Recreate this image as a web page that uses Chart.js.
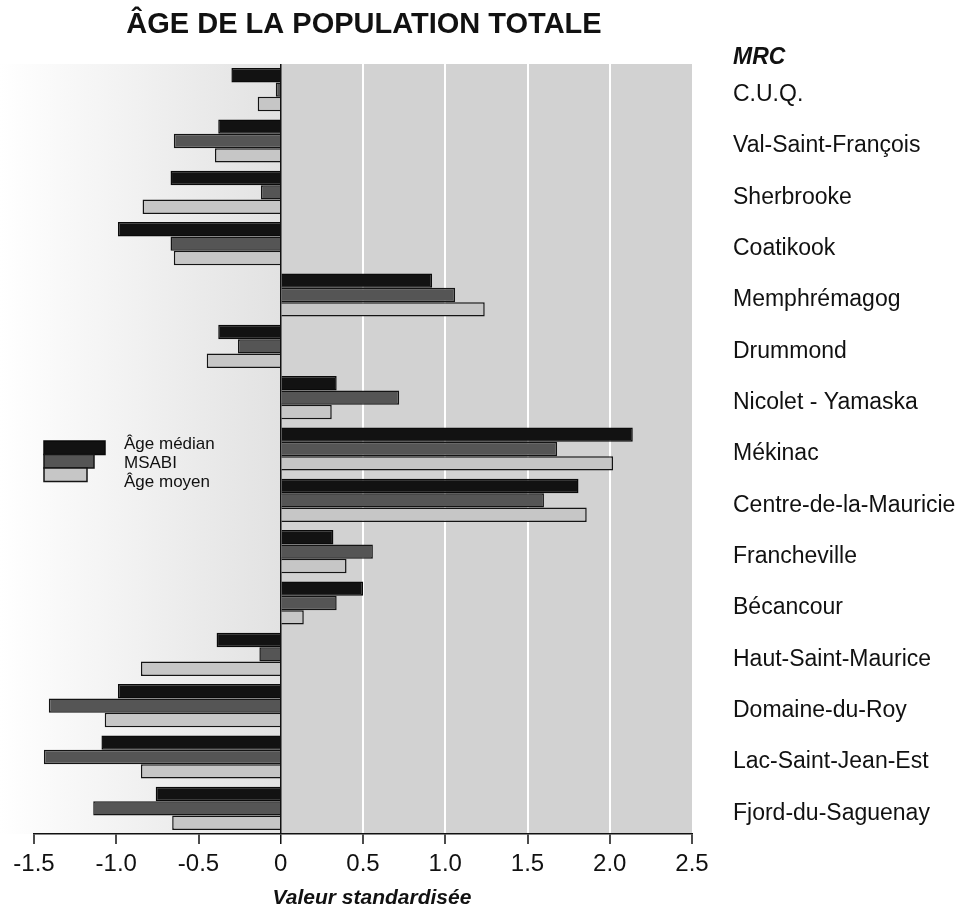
<!DOCTYPE html>
<html lang="fr">
<head>
<meta charset="utf-8">
<title>Âge de la population totale</title>
<script src="https://cdn.jsdelivr.net/npm/chart.js@4.4.1/dist/chart.umd.min.js"></script>
<style>
  html, body { margin: 0; padding: 0; background: #fff; }
  #wrap { width: 964px; height: 908px; position: relative; }
</style>
</head>
<body>
<div id="wrap"><canvas id="myChart" width="964" height="908"></canvas></div>
<script>
// DATA

const categories = [
  'C.U.Q.', 'Val-Saint-François', 'Sherbrooke', 'Coatikook', 'Memphrémagog',
  'Drummond', 'Nicolet - Yamaska', 'Mékinac', 'Centre-de-la-Mauricie',
  'Francheville', 'Bécancour', 'Haut-Saint-Maurice', 'Domaine-du-Roy',
  'Lac-Saint-Jean-Est', 'Fjord-du-Saguenay'
];

const ageMedian = [-0.30, -0.38, -0.67, -0.99, 0.92, -0.38, 0.34, 2.14, 1.81, 0.32, 0.50, -0.39, -0.99, -1.09, -0.76];
const msabi = [-0.03, -0.65, -0.12, -0.67, 1.06, -0.26, 0.72, 1.68, 1.60, 0.56, 0.34, -0.13, -1.41, -1.44, -1.14];
const ageMoyen = [-0.14, -0.40, -0.84, -0.65, 1.24, -0.45, 0.31, 2.02, 1.86, 0.40, 0.14, -0.85, -1.07, -0.85, -0.66];

const seriesNames = ['Âge médian', 'MSABI', 'Âge moyen'];
const xTicks = [-1.5, -1.0, -0.5, 0, 0.5, 1.0, 1.5, 2.0, 2.5];

const FONT = '"Liberation Sans", Arial, Helvetica, sans-serif';

// PLUGINS

// shaded panel behind the bars
const backdrop = {
  id: 'backdrop',
  beforeDraw(chart) {
    const { ctx, chartArea } = chart;
    const x = chart.scales.x;
    const zero = x.getPixelForValue(0);
    const end = x.getPixelForValue(xTicks[xTicks.length - 1]);
    ctx.save();
    const g = ctx.createLinearGradient(0, 0, zero, 0);
    g.addColorStop(0, '#ffffff');
    g.addColorStop(1, '#e2e2e2');
    ctx.fillStyle = g;
    ctx.fillRect(0, chartArea.top, zero, chartArea.bottom - chartArea.top);
    ctx.fillStyle = '#d2d2d2';
    ctx.fillRect(zero, chartArea.top, end - zero, chartArea.bottom - chartArea.top);
    ctx.restore();
  }
};

// title, MRC header, axis title and the step legend
const decorations = {
  id: 'decorations',
  afterDraw(chart) {
    const { ctx } = chart;
    ctx.save();
    ctx.fillStyle = '#111';
    ctx.textBaseline = 'middle';

    ctx.textAlign = 'center';
    ctx.font = 'bold 29px ' + FONT;
    ctx.fillText('ÂGE DE LA POPULATION TOTALE', 364, 25);

    ctx.font = 'italic bold 21px ' + FONT;
    ctx.fillText('Valeur standardisée', 372, 898);

    ctx.textAlign = 'left';
    ctx.font = 'italic bold 23px ' + FONT;
    ctx.fillText('MRC', 733, 58);

    // legend
    const widths = [61, 50, 43];
    const ds = chart.data.datasets;
    ctx.font = '17px ' + FONT;
    for (let i = 0; i < ds.length; i++) {
      const top = 441 + i * 13.5;
      ctx.fillStyle = ds[i].backgroundColor;
      ctx.fillRect(44, top, widths[i], 13.5);
      ctx.strokeStyle = ds[i].borderColor;
      ctx.lineWidth = 1.5;
      ctx.strokeRect(44, top, widths[i], 13.5);
      ctx.fillStyle = '#111';
      ctx.fillText(seriesNames[i], 124, 444 + i * 19);
    }
    ctx.restore();
  }
};

// CHART

const ctx = document.getElementById('myChart').getContext('2d');

const chart = new Chart(ctx, {
  type: 'bar',
  data: {
    labels: categories,
    datasets: [
      {
        label: seriesNames[0],
        backgroundColor: '#121212',
        borderColor: '#0a0a0a',
        borderWidth: 1.5,
        data: ageMedian,
      },
      {
        label: seriesNames[1],
        backgroundColor: '#555555',
        borderColor: '#141414',
        borderWidth: 1.5,
        data: msabi,
      },
      {
        label: seriesNames[2],
        backgroundColor: '#c6c6c6',
        borderColor: '#141414',
        borderWidth: 1.5,
        data: ageMoyen,
      },
    ],
  },
  options: {
    indexAxis: 'y',
    responsive: false,
    animation: false,
    devicePixelRatio: 1,
    categoryPercentage: 0.84,
    barPercentage: 1.0,
    layout: { padding: { left: 34, top: 64, right: 0, bottom: 0 } },
    plugins: {
      legend: { display: false },
      title: { display: false },
      tooltip: { enabled: false },
    },
    scales: {
      x: {
        type: 'linear',
        min: xTicks[0],
        max: xTicks[xTicks.length - 1],
        afterBuildTicks(scale) {
          scale.ticks = xTicks.map(function (v) { return { value: v }; });
        },
        afterFit(scale) {
          scale.height = 74;
        },
        border: { display: true, color: '#111', width: 1.5 },
        grid: {
          drawOnChartArea: true,
          drawTicks: true,
          tickLength: 10,
          tickColor: '#111',
          tickWidth: 1.5,
          color(c) {
            const v = c.tick ? c.tick.value : null;
            if (v === 0) return '#111';
            if (v > 0 && v < 2.5) return '#ffffff';
            return 'rgba(0,0,0,0)';
          },
          lineWidth(c) {
            const v = c.tick ? c.tick.value : null;
            return v === 0 ? 1.5 : 2;
          },
        },
        ticks: {
          color: '#111',
          padding: 6,
          font: { family: FONT, size: 24 },
          maxRotation: 0,
          callback(value) {
            return value === 0 ? '0' : Number(value).toFixed(1);
          },
        },
      },
      y: {
        position: 'right',
        afterFit(scale) {
          scale.width = 272;
        },
        border: { display: false },
        grid: { display: false, drawTicks: false },
        ticks: {
          color: '#111',
          padding: 41,
          labelOffset: 5,
          font: { family: FONT, size: 23 },
        },
      },
    },
  },
  plugins: [backdrop, decorations],
});
</script>
</body>
</html>
